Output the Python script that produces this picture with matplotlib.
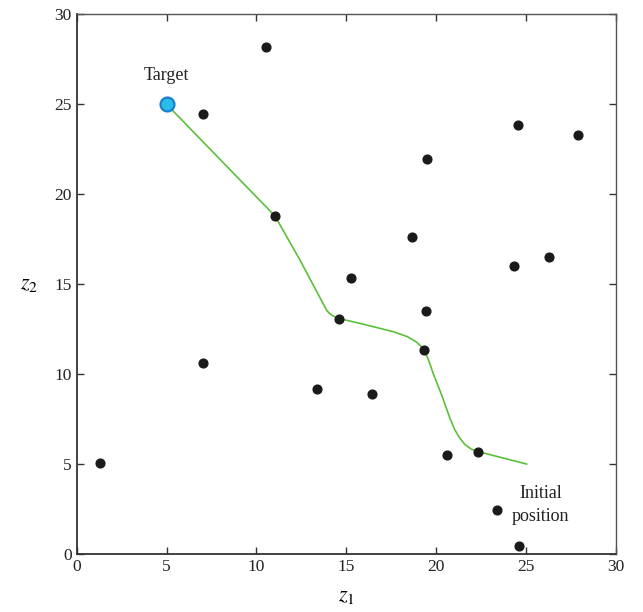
import matplotlib
matplotlib.use("Agg")
import matplotlib.pyplot as plt

plt.rcParams['font.family'] = ['Liberation Serif', 'DejaVu Serif']
plt.rcParams['mathtext.fontset'] = 'stix'

# obstacle points (z1, z2)
obs_z1 = [1.28, 7.0, 10.51, 11.05, 7.03, 13.38, 14.61, 15.25, 16.41, 18.65,
          19.47, 19.43, 19.32, 20.58, 22.34, 23.39, 24.62, 24.34, 26.27, 24.53, 27.87]
obs_z2 = [5.06, 24.48, 28.17, 18.77, 10.6, 9.19, 13.08, 15.33, 8.89, 17.62,
          21.94, 13.53, 11.36, 5.52, 5.67, 2.45, 0.46, 15.99, 16.51, 23.85, 23.27]

# trajectory, from initial position to target
path_z1 = [25.03, 22.34, 21.95, 21.6, 21.32, 21.04, 20.76, 20.3, 19.83, 19.56, 19.38, 19.2,
           18.9, 18.4, 17.61, 15.76, 14.55, 14.27, 14.05, 13.9, 12.42, 11.03, 5.0]
path_z2 = [5.0, 5.69, 5.83, 6.08, 6.43, 6.89, 7.55, 8.84, 10.04, 10.82, 11.2, 11.5,
           11.78, 12.08, 12.36, 12.82, 13.10, 13.23, 13.38, 13.56, 16.34, 18.79, 25.0]

target = (5.0, 25.0)

fig = plt.figure(figsize=(6.43, 6.12), dpi=100)
ax = fig.add_axes([0.1193, 0.0948, 0.8387, 0.8817])

ax.plot(path_z1, path_z2, color='#5cbf3c', lw=1.2, zorder=2)
ax.plot(obs_z1, obs_z2, 'o', color='#1a1a1a', ms=6.3, zorder=3)
ax.plot([target[0]], [target[1]], 'o', ms=10, mfc='#29bde8', mec='#1a7fcf',
        mew=1.6, zorder=4)

ax.text(5.0, 26.6, 'Target', ha='center', va='center', fontsize=13, color='#222222')
ax.text(25.8, 2.7, 'Initial\nposition', ha='center', va='center', fontsize=13,
        color='#222222', linespacing=1.45)

ax.set_xlim(0, 30)
ax.set_ylim(0, 30)
ax.set_xticks([0, 5, 10, 15, 20, 25, 30])
ax.set_yticks([0, 5, 10, 15, 20, 25, 30])
ax.tick_params(direction='in', length=5, width=1, colors='#333333',
               labelcolor='#222222', labelsize=12.5, top=True, right=True)
for s in ['left', 'bottom']:
    ax.spines[s].set_color('#333333')
    ax.spines[s].set_linewidth(1.3)
for s in ['top', 'right']:
    ax.spines[s].set_color('#555555')
    ax.spines[s].set_linewidth(1.0)

ax.set_xlabel(r'$z_1$', fontsize=16, labelpad=9)
ax.set_ylabel(r'$z_2$', fontsize=16, rotation=0, labelpad=18, va='center')

fig.savefig('out.png', dpi=100)
